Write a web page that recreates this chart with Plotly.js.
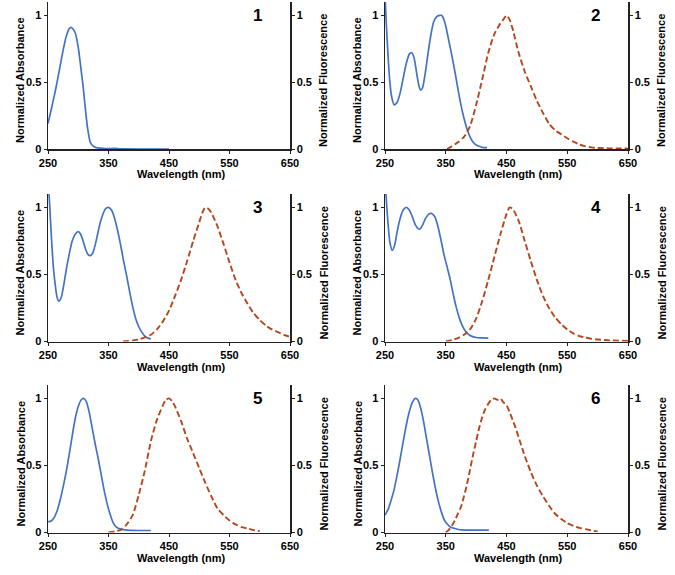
<!DOCTYPE html>
<html><head><meta charset="utf-8">
<script src="https://cdn.plot.ly/plotly-3.0.1.min.js"></script>
<style>html,body{margin:0;padding:0;background:#fff}#chart{width:675px;height:575px}</style>
</head><body><div id="chart"></div>
<script>
// ---- data ----
const panelLabels = ["1", "2", "3", "4", "5", "6"];
const xTickVals = [250, 350, 450, 550, 650];
const yTickVals = [0, 0.5, 1];
const yTickText = ["0", "0.5", "1"];
const xTitle = "Wavelength (nm)";
const yLeftTitle = "Normalized Absorbance";
const yRightTitle = "Normalized Fluorescence";

const absX1 = [250,255,260,265,270,275,280,285,288,291,295,300,305,308,310,315,320,325,330,340,350,360,370,400,450];
const absY1 = [0.19,0.29,0.39,0.5,0.62,0.74,0.84,0.9,0.91,0.9,0.87,0.76,0.58,0.47,0.38,0.17,0.05,0.02,0.01,0.005,0.003,0.004,0.001,0,0];
const fluX1 = [];
const fluY1 = [];

const absX2 = [250,252,255,258,261,265,270,275,280,285,290,294,298,302,306,309,312,316,320,325,330,335,340,343,346,350,355,360,365,370,375,380,385,390,395,400,405,410,418];
const absY2 = [1.15,0.95,0.7,0.5,0.39,0.33,0.35,0.42,0.53,0.64,0.71,0.72,0.68,0.57,0.47,0.44,0.46,0.56,0.69,0.84,0.95,0.99,1.0,1.0,0.98,0.92,0.81,0.7,0.58,0.45,0.33,0.23,0.15,0.09,0.05,0.03,0.02,0.012,0.01];
const fluX2 = [352,360,370,380,390,400,410,420,430,440,445,450,455,460,470,480,490,500,510,520,530,540,550,560,570,580,590,600,620,650];
const fluY2 = [0.0,0.02,0.05,0.09,0.17,0.33,0.52,0.72,0.86,0.94,0.97,1.0,0.97,0.9,0.72,0.58,0.47,0.36,0.27,0.19,0.14,0.11,0.08,0.055,0.035,0.02,0.012,0.008,0.005,0.003];

const absX3 = [251,253,256,259,262,265,268,272,276,280,285,290,295,300,304,308,312,316,320,324,328,332,336,340,345,350,355,360,365,370,375,380,385,390,395,400,405,410,415,420];
const absY3 = [1.15,1.0,0.75,0.55,0.42,0.33,0.3,0.33,0.42,0.53,0.65,0.75,0.8,0.82,0.8,0.75,0.69,0.65,0.64,0.66,0.72,0.8,0.88,0.94,0.99,1.0,0.98,0.92,0.83,0.72,0.6,0.49,0.37,0.26,0.17,0.11,0.07,0.04,0.025,0.02];
const fluX3 = [374,380,390,400,410,420,430,440,450,460,470,480,490,500,505,510,515,520,530,540,550,560,570,580,590,600,610,620,630,640,650];
const fluY3 = [0,0.003,0.008,0.015,0.03,0.05,0.09,0.15,0.23,0.34,0.46,0.6,0.75,0.89,0.96,1.0,0.99,0.96,0.86,0.73,0.59,0.46,0.36,0.28,0.21,0.16,0.12,0.09,0.07,0.05,0.035];

const absX4 = [251,253,255,258,262,266,270,275,280,285,290,295,300,305,308,312,317,322,327,332,337,342,347,352,357,362,367,372,377,382,387,392,400,410,420];
const absY4 = [1.15,1.0,0.88,0.74,0.68,0.72,0.82,0.92,0.98,1.0,0.98,0.93,0.87,0.84,0.84,0.87,0.92,0.95,0.955,0.93,0.86,0.76,0.65,0.56,0.47,0.36,0.26,0.18,0.12,0.08,0.055,0.04,0.03,0.027,0.025];
const fluX4 = [350,360,370,380,390,400,410,420,430,440,450,455,460,470,480,490,500,510,520,530,540,550,560,570,580,590,600,620,650];
const fluY4 = [0,0.01,0.025,0.05,0.09,0.17,0.3,0.46,0.63,0.8,0.95,1.0,0.99,0.9,0.75,0.6,0.46,0.34,0.25,0.18,0.13,0.09,0.06,0.04,0.03,0.02,0.015,0.008,0.004];

const absX5 = [250,255,260,265,270,275,280,285,290,295,300,305,309,313,318,323,328,333,338,343,348,353,358,363,370,380,400,420];
const absY5 = [0.08,0.085,0.11,0.16,0.24,0.34,0.45,0.58,0.72,0.85,0.94,0.99,1.0,0.98,0.9,0.78,0.66,0.55,0.43,0.31,0.21,0.13,0.07,0.04,0.025,0.018,0.015,0.015];
const fluX5 = [350,360,370,380,390,400,410,420,430,440,445,450,455,460,470,480,490,500,510,520,530,540,550,560,570,580,590,600];
const fluY5 = [0,0.008,0.02,0.06,0.13,0.28,0.46,0.68,0.84,0.95,0.99,1.0,0.98,0.94,0.83,0.7,0.59,0.48,0.37,0.27,0.18,0.13,0.09,0.06,0.04,0.03,0.018,0.01];

const absX6 = [250,255,260,265,270,275,280,285,290,295,300,304,308,313,318,323,328,333,338,343,348,353,358,365,375,400,421];
const absY6 = [0.13,0.17,0.24,0.32,0.43,0.55,0.68,0.8,0.9,0.97,1.0,0.99,0.94,0.84,0.71,0.58,0.45,0.33,0.23,0.15,0.09,0.06,0.04,0.03,0.02,0.018,0.018];
const fluX6 = [350,355,360,365,370,375,380,385,390,395,400,405,410,415,420,425,430,435,440,445,450,455,460,465,470,475,480,485,490,500,510,520,530,540,550,560,570,580,590,600];
const fluY6 = [0,0.02,0.05,0.09,0.14,0.19,0.27,0.36,0.47,0.58,0.68,0.78,0.86,0.92,0.96,0.99,1.0,0.99,1.0,0.97,0.95,0.9,0.84,0.78,0.71,0.64,0.57,0.51,0.45,0.35,0.27,0.2,0.14,0.1,0.07,0.05,0.035,0.025,0.015,0.008];

const absXs = [absX1, absX2, absX3, absX4, absX5, absX6];
const absYs = [absY1, absY2, absY3, absY4, absY5, absY6];
const fluXs = [fluX1, fluX2, fluX3, fluX4, fluX5, fluX6];
const fluYs = [fluY1, fluY2, fluY3, fluY4, fluY5, fluY6];

// ---- layout ----
const W = 675, H = 575;
const colPx = [[48, 290], [385, 628]];
const rowPx = [[2, 149], [194, 341.5], [385, 532.5]];
const blue = "#4472C4", red = "#B5461E", axisCol = "#222";
const font = {family: "Liberation Sans, Arial, sans-serif", size: 11, color: "#000", weight: "bold"};

const traces = [];
const layout = {
  width: W, height: H,
  margin: {l: 0, r: 0, t: 0, b: 0},
  paper_bgcolor: "#fff", plot_bgcolor: "#fff",
  showlegend: false,
  font: font,
  annotations: []
};

for (let i = 0; i < 6; i++) {
  const n = i + 1;
  const col = i % 2, row = Math.floor(i / 2);
  const xa = "x" + n, yl = "y" + (2 * n - 1), yr = "y" + (2 * n);
  const xKey = "xaxis" + n, ylKey = "yaxis" + (2 * n - 1), yrKey = "yaxis" + (2 * n);
  const xd = [colPx[col][0] / W, colPx[col][1] / W];
  const yd = [1 - rowPx[row][1] / H, 1 - rowPx[row][0] / H];

  traces.push({x: absXs[i], y: absYs[i], xaxis: xa, yaxis: yl, type: "scatter", mode: "lines",
    line: {color: blue, width: 1.7, shape: "spline", smoothing: 0.6}, hoverinfo: "skip"});
  traces.push({x: fluXs[i], y: fluYs[i], xaxis: xa, yaxis: yr, type: "scatter", mode: "lines",
    line: {color: red, width: 1.9, dash: "6px,3px", shape: "spline", smoothing: 0.6}, hoverinfo: "skip"});

  const common = {ticks: "outside", ticklen: 3, tickcolor: axisCol, showline: true, linecolor: axisCol,
    linewidth: 1.5, showgrid: false, zeroline: false, tickfont: font};
  layout[xKey] = Object.assign({domain: xd, anchor: yl, range: [250, 650], tickvals: xTickVals}, common);
  layout[ylKey] = Object.assign({domain: yd, anchor: xa, range: [0, 1.1], tickvals: yTickVals, ticktext: yTickText}, common);
  layout[yrKey] = Object.assign({domain: yd, anchor: xa, overlaying: yl, side: "right", range: [0, 1.1],
    tickvals: yTickVals, ticktext: yTickText}, common);

  // titles as annotations (positioned like the reference)
  const left = colPx[col][0], right = colPx[col][1], bottom = rowPx[row][1];
  layout.annotations.push({text: xTitle, xref: "paper", yref: "paper", x: (left + 133) / W, y: 1 - (bottom + 25) / H,
    showarrow: false, font: font, xanchor: "center", yanchor: "middle"});
  layout.annotations.push({text: yLeftTitle, xref: "paper", yref: "paper", x: (left - 28) / W, y: 1 - (bottom - 69) / H,
    showarrow: false, font: font, textangle: -90, xanchor: "center", yanchor: "middle"});
  layout.annotations.push({text: yRightTitle, xref: "paper", yref: "paper", x: (right + 33) / W, y: 1 - (bottom - 68) / H,
    showarrow: false, font: font, textangle: -90, xanchor: "center", yanchor: "middle"});

  layout.annotations.push({text: panelLabels[i], xref: xa, yref: yl, x: 597, y: 1.0, showarrow: false,
    font: {family: font.family, size: 17, color: "#000", weight: "bold"}, xanchor: "center", yanchor: "middle"});
}

Plotly.newPlot("chart", traces, layout, {staticPlot: true, displayModeBar: false});
</script>
</body></html>
